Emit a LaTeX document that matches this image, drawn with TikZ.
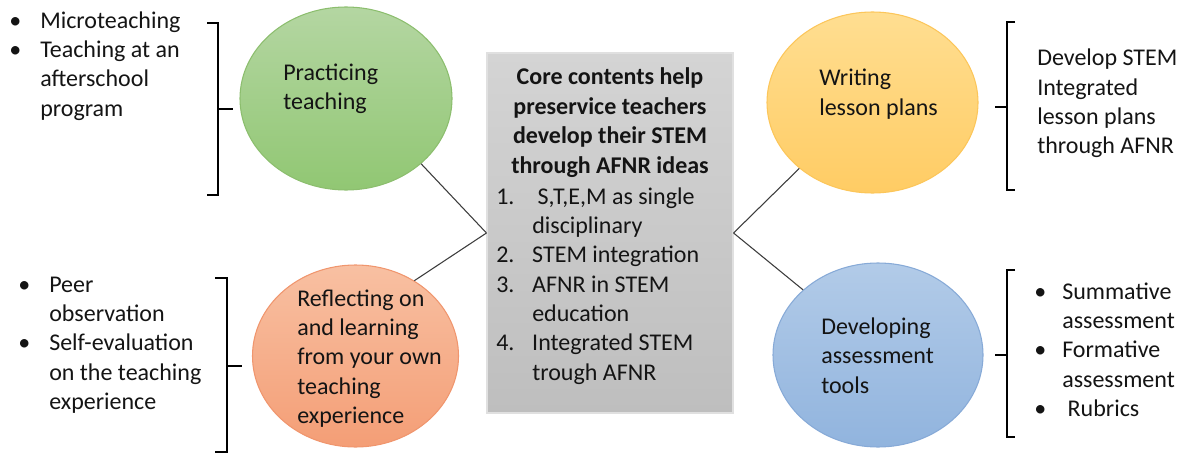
\documentclass[tikz,border=0pt]{standalone}
\usepackage{fontspec}
\setmainfont{Carlito}
\usetikzlibrary{shapes.geometric}

\definecolor{greentop}{RGB}{180,214,162}
\definecolor{greenbot}{RGB}{145,199,115}
\definecolor{greenline}{RGB}{140,190,110}
\definecolor{orangetop}{RGB}{248,192,162}
\definecolor{orangebot}{RGB}{244,158,118}
\definecolor{orangeline}{RGB}{240,150,110}
\definecolor{yellowtop}{RGB}{255,222,145}
\definecolor{yellowbot}{RGB}{255,204,100}
\definecolor{yellowline}{RGB}{252,198,90}
\definecolor{bluetop}{RGB}{178,203,232}
\definecolor{bluebot}{RGB}{145,180,222}
\definecolor{blueline}{RGB}{135,170,215}
\definecolor{boxtop}{RGB}{212,212,212}
\definecolor{boxbot}{RGB}{190,190,190}
\definecolor{linkgray}{RGB}{60,60,60}
\definecolor{inkgray}{RGB}{20,20,20}

\newcommand{\blt}[1]{\makebox[#1][l]{\textbullet}}

\begin{document}
\begin{tikzpicture}[x=0.75pt, y=-0.75pt,
    bubble/.style={ellipse, inner sep=0pt, line width=0.8pt},
    txt/.style={anchor=west, inner sep=0pt, align=left, text=inkgray,
      font=\fontsize{18}{22}\selectfont},
    link/.style={draw=linkgray, line width=0.8pt},
    brk/.style={line width=1.1pt, black}]
  \useasboundingbox (0,0) rectangle (1189,453);

  % Centre box
  \node[rectangle, draw=black!12, line width=0.8pt, top color=boxtop,
    bottom color=boxbot, minimum width=184.5pt, minimum height=270pt,
    inner sep=0pt] (core) at (610,233) {};
  \node[txt, anchor=center, align=center, font=\fontsize{18}{22.2}\selectfont\bfseries]
    (coretitle) at (610,122.5) {Core contents help\\preservice teachers\\develop their STEM\\through AFNR ideas};
  \node[txt] (corelist) at (496,286) {%
    \makebox[27pt][l]{1.}\ S,T,E,M as single\\
    \hspace*{27pt}disciplinary\\
    \makebox[27pt][l]{2.}STEM integration\\
    \makebox[27pt][l]{3.}AFNR in STEM\\
    \hspace*{27pt}education\\
    \makebox[27pt][l]{4.}Integrated STEM\\
    \hspace*{27pt}trough AFNR};

  % Bubbles
  \node[bubble, draw=greenline, top color=greentop, bottom color=greenbot,
    minimum width=159pt, minimum height=137.25pt] (practice) at (346,98.5) {};
  \node[bubble, draw=orangeline, top color=orangetop, bottom color=orangebot,
    minimum width=154.5pt, minimum height=136.5pt] (reflect) at (355.5,356) {};
  \node[bubble, draw=yellowline, top color=yellowtop, bottom color=yellowbot,
    minimum width=158.25pt, minimum height=135.75pt] (lesson) at (872.5,102.5) {};
  \node[bubble, draw=blueline, top color=bluetop, bottom color=bluebot,
    minimum width=157.5pt, minimum height=138pt] (assess) at (878,355) {};

  \node[txt] (practicetxt) at (283,88.5) {Practicing\\teaching};
  \node[txt] (reflecttxt) at (297,358.5) {Reflecting on\\and learning\\from your own\\teaching\\experience};
  \node[txt] (lessontxt) at (819,94) {Writing\\lesson plans};
  \node[txt] (assesstxt) at (821,355.5) {Developing\\assessment\\tools};

  % Links to the box
  \draw[link] (core.west) -- (practice.-41);
  \draw[link] (core.west) -- (reflect.52);
  \draw[link] (core.east) -- (lesson.222);
  \draw[link] (core.east) -- (assess.139);

  % Brackets
  \draw[brk] (207,23) -- (218,23) -- (218,195) -- (207,195);
  \draw[brk] (218,109) -- (233,109);
  \draw[brk] (215,278) -- (227,278) -- (227,452) -- (215,452);
  \draw[brk] (227,366) -- (242,366);
  \draw[brk] (1015,22) -- (1007,22) -- (1007,190) -- (1015,190);
  \draw[brk] (995,107) -- (1007,107);
  \draw[brk] (1015,270) -- (1007,270) -- (1007,437) -- (1015,437);
  \draw[brk] (995,355) -- (1007,355);

  % Side notes
  \node[txt] (practicenote) at (9,66) {%
    \blt{23.25pt}Microteaching\\
    \blt{23.25pt}Teaching at an\\
    \hspace*{23.25pt}afterschool\\
    \hspace*{23.25pt}program};
  \node[txt] (reflectnote) at (18,345) {%
    \blt{23.25pt}Peer\\
    \hspace*{23.25pt}observation\\
    \blt{23.25pt}Self-evaluation\\
    \hspace*{23.25pt}on the teaching\\
    \hspace*{23.25pt}experience};
  \node[txt] (lessonnote) at (1037,103.5) {Develop STEM\\Integrated\\lesson plans\\through AFNR};
  \node[txt] (assessnote) at (1034,349.5) {%
    \blt{21pt}Summative\\
    \hspace*{21pt}assessment\\
    \blt{21pt}Formative\\
    \hspace*{21pt}assessment\\
    \blt{21pt}\ Rubrics};
\end{tikzpicture}
\end{document}
